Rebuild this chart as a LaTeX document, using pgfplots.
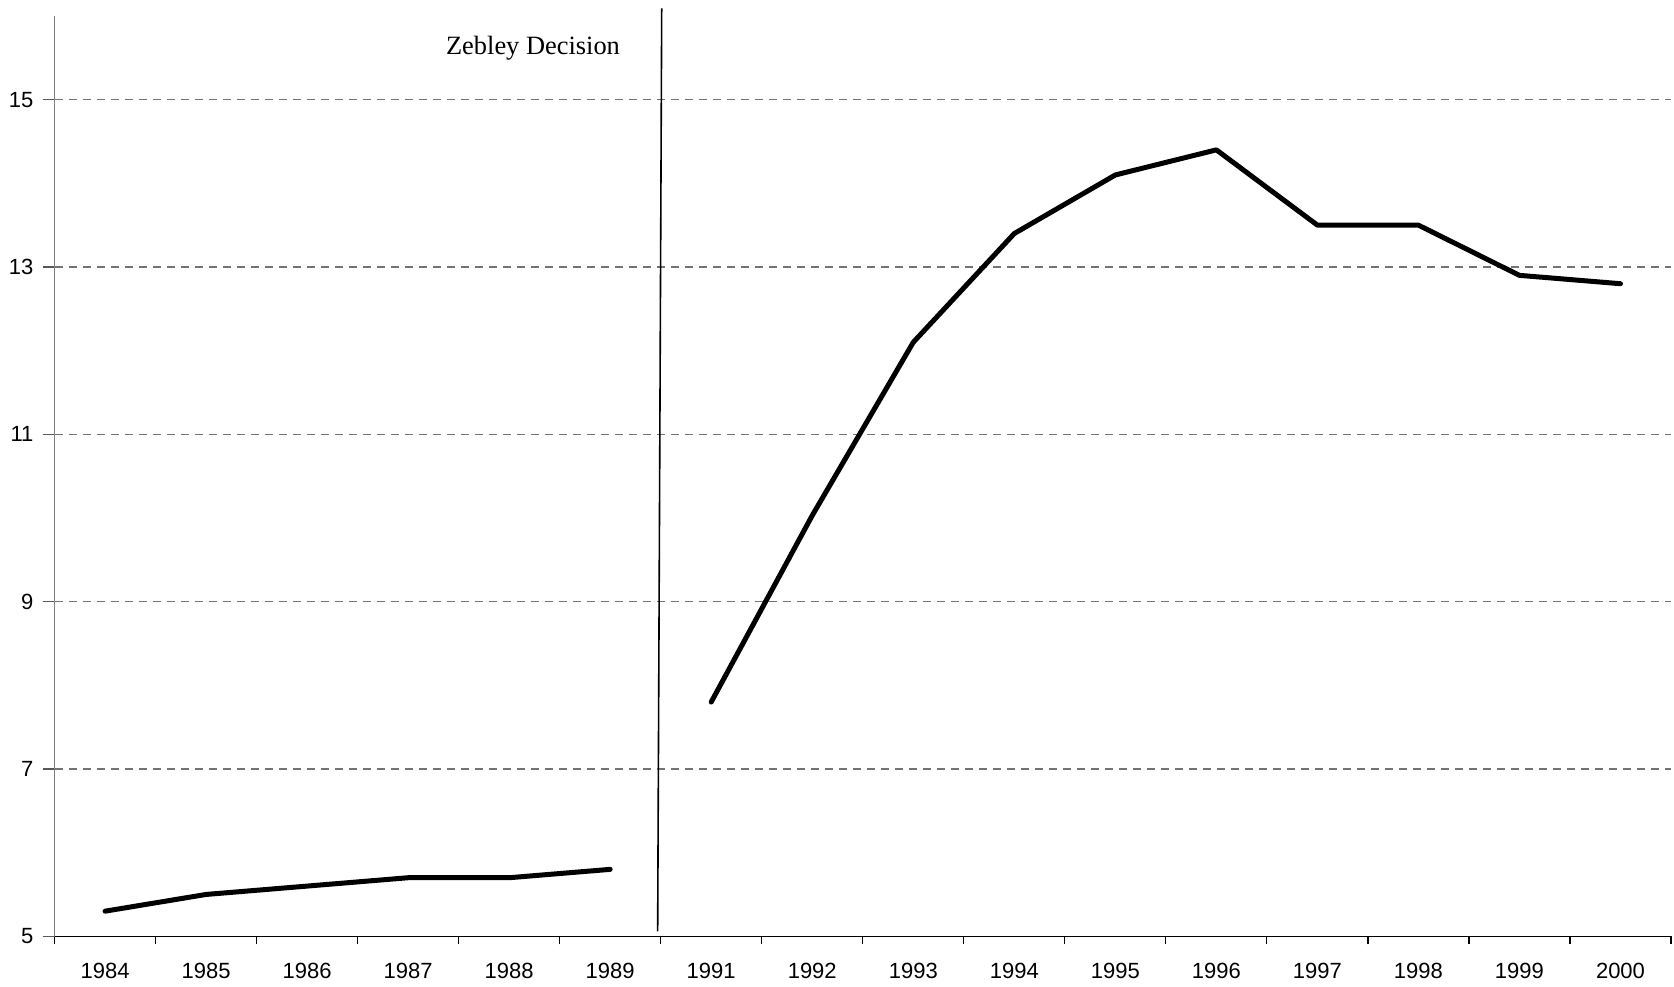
\documentclass[border=0pt]{standalone}
\usepackage{fontspec}
\setmainfont{Liberation Sans}
\newfontfamily\serifann{Liberation Serif}
\usepackage{pgfplots}
\pgfplotsset{compat=1.18}
\begin{document}
\begin{tikzpicture}
\begin{axis}[
  scale only axis,
  width=808pt, height=460pt,
  xmin=-0.5, xmax=15.5,
  ymin=5, ymax=16,
  axis lines=left,
  axis line style={-, line width=0.6pt},
  y axis line style={gray},
  xtick={0,...,15},
  xticklabels={1984,1985,1986,1987,1988,1989,1991,1992,1993,1994,1995,1996,1997,1998,1999,2000},
  minor xtick={-0.5,0.5,...,15.5},
  major x tick style={draw=none},
  minor x tick style={black, line width=0.6pt},
  ytick={5,7,9,11,13,15},
  ytick style={gray!70!black, line width=0.6pt},
  tick align=outside,
  major tick length=6pt,
  minor tick length=4pt,
  ymajorgrids,
  grid style={dash pattern=on 4pt off 3pt, gray!90!black, line width=0.55pt},
  /pgf/number format/assume math mode=true,
  tick label style={font=\fontsize{11}{13}\selectfont},
  xticklabel style={yshift=-4pt},
  yticklabel style={xshift=-1pt},
  clip=false,
]
\addplot[black, line width=2.5pt, line join=round, line cap=round] coordinates {
  (0,5.3) (1,5.5) (2,5.6) (3,5.7) (4,5.7) (5,5.8)
};
\addplot[black, line width=2.5pt, line join=round, line cap=round] coordinates {
  (6,7.8) (7,10.03) (8,12.1) (9,13.4) (10,14.1) (11,14.4) (12,13.5) (13,13.5) (14,12.9) (15,12.8)
};
\addplot[black, line width=0.8pt] coordinates {(5.51,16.09) (5.47,5.06)};
\node[font=\serifann\fontsize{13.2}{15}\selectfont] at (axis cs:4.236,15.62) {Zebley Decision};
\path (rel axis cs:0,0) ++(-27.25pt,-25pt) coordinate (bl);
\path (rel axis cs:1,1) ++(1.5pt,8pt) coordinate (tr);
\end{axis}
\path (bl) rectangle (tr);
\end{tikzpicture}
\end{document}
